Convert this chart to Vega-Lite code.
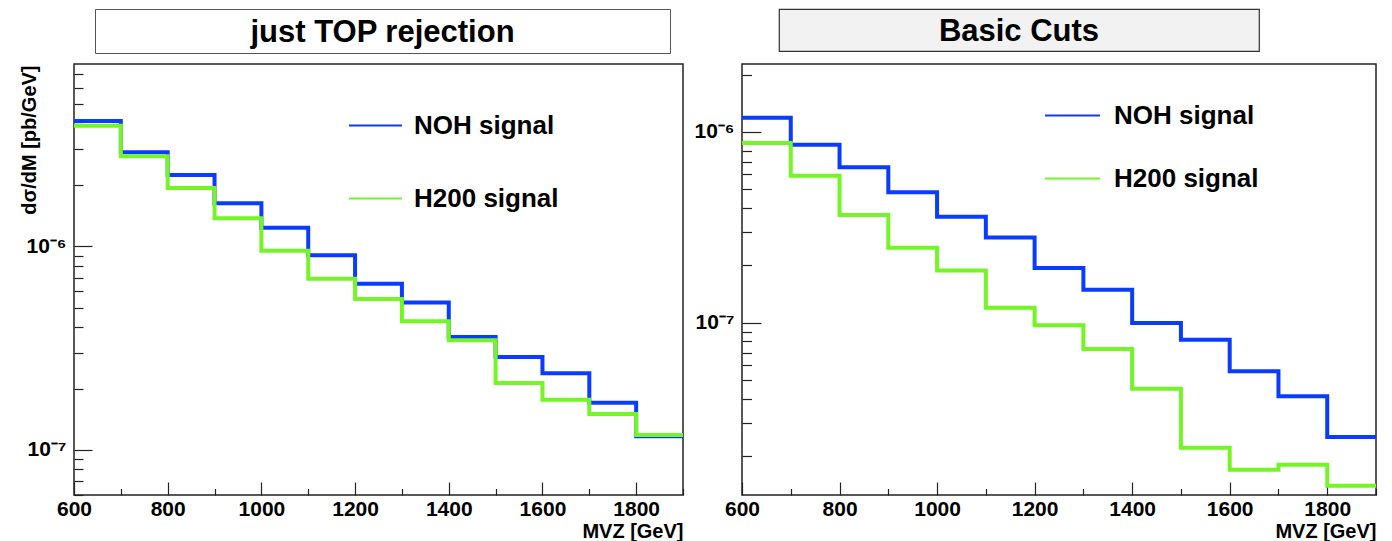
{
  "$schema": "https://vega.github.io/schema/vega-lite/v6.json",
  "background": "white",
  "padding": {"left": 18, "top": 8, "right": 0, "bottom": 0},
  "config": {
    "font": "Liberation Sans",
    "view": {"stroke": "#222", "strokeWidth": 1.5},
    "axis": {
      "labelFont": "Liberation Sans", "labelFontWeight": "bold", "labelFontSize": 21, "labelColor": "black",
      "titleFont": "Liberation Sans", "titleFontWeight": "bold", "titleFontSize": 20, "titleColor": "black",
      "domain": false, "grid": false, "tickColor": "#222", "tickWidth": 1.2
    },
    "legend": {
      "labelFont": "Liberation Sans", "labelFontWeight": "bold", "labelFontSize": 26, "labelColor": "black"
    }
  },
  "datasets": {
    "left": [
      {"series": "NOH signal", "m": 600, "v": 4.13e-6},
      {"series": "NOH signal", "m": 700, "v": 2.90e-6},
      {"series": "NOH signal", "m": 800, "v": 2.24e-6},
      {"series": "NOH signal", "m": 900, "v": 1.63e-6},
      {"series": "NOH signal", "m": 1000, "v": 1.234e-6},
      {"series": "NOH signal", "m": 1100, "v": 9.03e-7},
      {"series": "NOH signal", "m": 1200, "v": 6.55e-7},
      {"series": "NOH signal", "m": 1300, "v": 5.30e-7},
      {"series": "NOH signal", "m": 1400, "v": 3.58e-7},
      {"series": "NOH signal", "m": 1500, "v": 2.86e-7},
      {"series": "NOH signal", "m": 1600, "v": 2.38e-7},
      {"series": "NOH signal", "m": 1700, "v": 1.70e-7},
      {"series": "NOH signal", "m": 1800, "v": 1.164e-7},
      {"series": "NOH signal", "m": 1900, "v": 1.164e-7},
      {"series": "H200 signal", "m": 600, "v": 3.92e-6},
      {"series": "H200 signal", "m": 700, "v": 2.77e-6},
      {"series": "H200 signal", "m": 800, "v": 1.935e-6},
      {"series": "H200 signal", "m": 900, "v": 1.373e-6},
      {"series": "H200 signal", "m": 1000, "v": 9.51e-7},
      {"series": "H200 signal", "m": 1100, "v": 6.93e-7},
      {"series": "H200 signal", "m": 1200, "v": 5.51e-7},
      {"series": "H200 signal", "m": 1300, "v": 4.28e-7},
      {"series": "H200 signal", "m": 1400, "v": 3.45e-7},
      {"series": "H200 signal", "m": 1500, "v": 2.13e-7},
      {"series": "H200 signal", "m": 1600, "v": 1.76e-7},
      {"series": "H200 signal", "m": 1700, "v": 1.50e-7},
      {"series": "H200 signal", "m": 1800, "v": 1.18e-7},
      {"series": "H200 signal", "m": 1900, "v": 1.18e-7}
    ],
    "right": [
      {"series": "NOH signal", "m": 600, "v": 1.188e-6},
      {"series": "NOH signal", "m": 700, "v": 8.58e-7},
      {"series": "NOH signal", "m": 800, "v": 6.53e-7},
      {"series": "NOH signal", "m": 900, "v": 4.83e-7},
      {"series": "NOH signal", "m": 1000, "v": 3.60e-7},
      {"series": "NOH signal", "m": 1100, "v": 2.80e-7},
      {"series": "NOH signal", "m": 1200, "v": 1.94e-7},
      {"series": "NOH signal", "m": 1300, "v": 1.493e-7},
      {"series": "NOH signal", "m": 1400, "v": 1.00e-7},
      {"series": "NOH signal", "m": 1500, "v": 8.18e-8},
      {"series": "NOH signal", "m": 1600, "v": 5.59e-8},
      {"series": "NOH signal", "m": 1700, "v": 4.13e-8},
      {"series": "NOH signal", "m": 1800, "v": 2.53e-8},
      {"series": "NOH signal", "m": 1900, "v": 2.53e-8},
      {"series": "H200 signal", "m": 600, "v": 8.76e-7},
      {"series": "H200 signal", "m": 700, "v": 5.90e-7},
      {"series": "H200 signal", "m": 800, "v": 3.675e-7},
      {"series": "H200 signal", "m": 900, "v": 2.48e-7},
      {"series": "H200 signal", "m": 1000, "v": 1.88e-7},
      {"series": "H200 signal", "m": 1100, "v": 1.202e-7},
      {"series": "H200 signal", "m": 1200, "v": 9.73e-8},
      {"series": "H200 signal", "m": 1300, "v": 7.31e-8},
      {"series": "H200 signal", "m": 1400, "v": 4.53e-8},
      {"series": "H200 signal", "m": 1500, "v": 2.22e-8},
      {"series": "H200 signal", "m": 1600, "v": 1.706e-8},
      {"series": "H200 signal", "m": 1700, "v": 1.812e-8},
      {"series": "H200 signal", "m": 1800, "v": 1.406e-8},
      {"series": "H200 signal", "m": 1900, "v": 1.406e-8}
    ]
  },
  "spacing": 8,
  "hconcat": [
    {
      "spacing": 9,
      "vconcat": [
        {
          "spacing": 0,
          "hconcat": [
            {"width": 20, "height": 44, "view": {"stroke": null}, "data": {"values": [{"t": ""}]}, "mark": "text", "encoding": {"text": {"field": "t"}}},
            {"width": 575, "height": 44, "view": {"stroke": "#555", "strokeWidth": 1, "fill": "white"},
             "data": {"values": [{"t": "just TOP rejection"}]},
             "mark": {"type": "text", "font": "Liberation Sans", "fontWeight": "bold", "fontSize": 31, "color": "black", "baseline": "middle", "dy": 2},
             "encoding": {"text": {"field": "t"}}}
          ]
        },
        {
          "width": 609, "height": 431,
          "data": {"name": "left"},
          "layer": [
            {"transform": [{"filter": "datum.series === 'NOH signal'"}],
             "mark": {"type": "line", "interpolate": "step-after", "strokeWidth": 4, "strokeCap": "butt", "strokeJoin": "miter", "clip": true},
             "encoding": {
               "x": {"field": "m", "type": "quantitative", "scale": {"domain": [600, 1900], "nice": false, "zero": false},
                     "axis": {"title": "MVZ [GeV]", "titleAnchor": "end", "titlePadding": 2,
                              "values": [600,650,700,750,800,850,900,950,1000,1050,1100,1150,1200,1250,1300,1350,1400,1450,1500,1550,1600,1650,1700,1750,1800,1850,1900],
                              "labelExpr": "datum.value % 200 === 0 ? datum.label : ''", "format": "d", "labelFlush": false,
                              "tickSize": {"condition": {"test": "datum.value % 200 === 0", "value": -13}, "value": -6.5},
                              "labelPadding": 16}},
               "y": {"field": "v", "type": "quantitative", "scale": {"type": "log", "domain": [5.99e-8, 7.88e-6], "nice": false},
                     "axis": {"title": "dσ/dM [pb/GeV]", "titleX": -55, "titleY": 1, "titleAngle": -90, "titleAlign": "right", "titleBaseline": "top",
                              "values": [6e-8,7e-8,8e-8,9e-8,1e-7,2e-7,3e-7,4e-7,5e-7,6e-7,7e-7,8e-7,9e-7,1e-6,2e-6,3e-6,4e-6,5e-6,6e-6,7e-6],
                              "labelExpr": "abs(log(datum.value)/LN10 - round(log(datum.value)/LN10)) < 0.001 ? (round(log(datum.value)/LN10) === -6 ? '10⁻⁶' : '10⁻⁷') : ''",
                              "tickSize": {"condition": {"test": "abs(log(datum.value)/LN10 - round(log(datum.value)/LN10)) < 0.001", "value": -18}, "value": -9},
                              "labelPadding": 26}},
               "color": {"field": "series", "type": "nominal", "scale": {"domain": ["NOH signal", "H200 signal"], "range": ["#0a3cff", "#74f526"]},
                         "legend": {"title": null, "orient": "none", "legendX": 274, "legendY": 89, "symbolType": "stroke", "symbolSize": 2809, "symbolStrokeWidth": 2, "labelOffset": 11, "rowPadding": 32}}
             }},
            {"transform": [{"filter": "datum.series === 'H200 signal'"}],
             "mark": {"type": "line", "interpolate": "step-after", "strokeWidth": 4, "strokeCap": "butt", "strokeJoin": "miter", "clip": true},
             "encoding": {
               "x": {"field": "m", "type": "quantitative"},
               "y": {"field": "v", "type": "quantitative"},
               "color": {"field": "series", "type": "nominal"}
             }}
          ]
        }
      ]
    },
    {
      "spacing": 11,
      "vconcat": [
        {
          "spacing": 0,
          "hconcat": [
            {"width": 36, "height": 42, "view": {"stroke": null}, "data": {"values": [{"t": ""}]}, "mark": "text", "encoding": {"text": {"field": "t"}}},
            {"width": 480, "height": 42, "view": {"stroke": "#333", "strokeWidth": 1.2, "fill": "#f2f2f2"},
             "data": {"values": [{"t": "Basic Cuts"}]},
             "mark": {"type": "text", "font": "Liberation Sans", "fontWeight": "bold", "fontSize": 31, "color": "black", "baseline": "middle", "dy": 2},
             "encoding": {"text": {"field": "t"}}}
          ]
        },
        {
          "width": 634, "height": 431,
          "data": {"name": "right"},
          "layer": [
            {"transform": [{"filter": "datum.series === 'NOH signal'"}],
             "mark": {"type": "line", "interpolate": "step-after", "strokeWidth": 4, "strokeCap": "butt", "strokeJoin": "miter", "clip": true},
             "encoding": {
               "x": {"field": "m", "type": "quantitative", "scale": {"domain": [600, 1900], "nice": false, "zero": false},
                     "axis": {"title": "MVZ [GeV]", "titleAnchor": "end", "titlePadding": 2,
                              "values": [600,650,700,750,800,850,900,950,1000,1050,1100,1150,1200,1250,1300,1350,1400,1450,1500,1550,1600,1650,1700,1750,1800,1850,1900],
                              "labelExpr": "datum.value % 200 === 0 ? datum.label : ''", "format": "d", "labelFlush": false,
                              "tickSize": {"condition": {"test": "datum.value % 200 === 0", "value": -13}, "value": -6.5},
                              "labelPadding": 16}},
               "y": {"field": "v", "type": "quantitative", "scale": {"type": "log", "domain": [1.257e-8, 2.27e-6], "nice": false},
                     "axis": {"title": null,
                              "values": [2e-8,3e-8,4e-8,5e-8,6e-8,7e-8,8e-8,9e-8,1e-7,2e-7,3e-7,4e-7,5e-7,6e-7,7e-7,8e-7,9e-7,1e-6,2e-6],
                              "labelExpr": "abs(log(datum.value)/LN10 - round(log(datum.value)/LN10)) < 0.001 ? (round(log(datum.value)/LN10) === -6 ? '10⁻⁶' : '10⁻⁷') : ''",
                              "tickSize": {"condition": {"test": "abs(log(datum.value)/LN10 - round(log(datum.value)/LN10)) < 0.001", "value": -19}, "value": -9.5},
                              "labelPadding": 27}},
               "color": {"field": "series", "type": "nominal", "scale": {"domain": ["NOH signal", "H200 signal"], "range": ["#0a3cff", "#74f526"]},
                         "legend": {"title": null, "orient": "none", "legendX": 302, "legendY": 78, "symbolType": "stroke", "symbolSize": 3025, "symbolStrokeWidth": 2, "labelOffset": 13, "rowPadding": 21}}
             }},
            {"transform": [{"filter": "datum.series === 'H200 signal'"}],
             "mark": {"type": "line", "interpolate": "step-after", "strokeWidth": 4, "strokeCap": "butt", "strokeJoin": "miter", "clip": true},
             "encoding": {
               "x": {"field": "m", "type": "quantitative"},
               "y": {"field": "v", "type": "quantitative"},
               "color": {"field": "series", "type": "nominal"}
             }}
          ]
        }
      ]
    }
  ],
  "resolve": {"scale": {"x": "independent", "y": "independent", "color": "independent"}, "legend": {"color": "independent"}}
}
